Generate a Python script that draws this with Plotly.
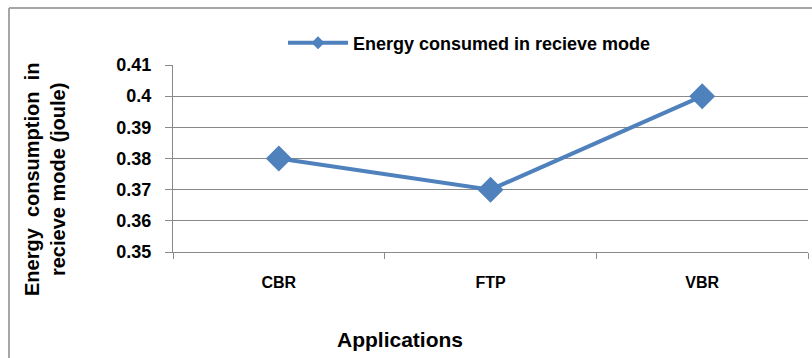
import plotly.graph_objects as go

categories = ["CBR", "FTP", "VBR"]
values = [0.38, 0.37, 0.40]
y_ticks = [0.35, 0.36, 0.37, 0.38, 0.39, 0.40, 0.41]
y_tick_labels = ["0.35", "0.36", "0.37", "0.38", "0.39", "0.4", "0.41"]
series_name = "Energy consumed in recieve mode"

FONT = "Liberation Sans, Arial, sans-serif"
BLUE = "#4F81BD"
GRID = "#898989"
W, H = 812, 358
L, R, T, B = 173, 4, 65, 106

fig = go.Figure()
fig.add_trace(go.Scatter(
    x=categories, y=values, mode="lines+markers",
    name=f"<b>{series_name}</b>", showlegend=False,
    line=dict(color=BLUE, width=4),
    marker=dict(symbol="diamond", size=20, color=BLUE),
))
# legend entry (smaller symbol, as in the reference)
fig.add_trace(go.Scatter(
    x=[None], y=[None], mode="lines+markers",
    name=f"<b>{series_name}</b>", showlegend=True,
    line=dict(color=BLUE, width=4),
    marker=dict(symbol="diamond", size=10, color=BLUE),
))

fig.update_layout(
    width=W, height=H,
    margin=dict(l=L, r=R, t=T, b=B, autoexpand=False),
    paper_bgcolor="white", plot_bgcolor="white",
    font=dict(family=FONT, color="black", size=14),
    showlegend=True,
    legend=dict(orientation="h", x=283/W, y=1-43/H, xref="container", yref="container",
                yanchor="middle", xanchor="left",
                font=dict(family=FONT, size=18, color="black"),
                bgcolor="rgba(0,0,0,0)", itemwidth=60),
    xaxis=dict(
        type="category", range=[-0.5, 2.5], tickson="boundaries",
        showline=True, linecolor=GRID, linewidth=1,
        ticks="outside", ticklen=6, tickcolor=GRID,
        showgrid=False,
        ticklabelstandoff=16,
        tickfont=dict(family=FONT, size=16, color="black", weight="bold"),
    ),
    yaxis=dict(
        range=[0.35, 0.41], tickvals=y_ticks, ticktext=y_tick_labels,
        showline=True, linecolor=GRID, linewidth=1,
        ticks="outside", ticklen=7, tickcolor=GRID,
        showgrid=True, gridcolor=GRID, gridwidth=1,
        zeroline=False,
        ticklabelstandoff=10,
        tickfont=dict(family=FONT, size=18, color="black", weight="bold"),
    ),
)

pw, ph = W - L - R, H - T - B

def px(x):
    return (x - L) / pw

def py(y):
    return (H - B - y) / ph

fig.add_annotation(text="<b>Applications</b>", xref="paper", yref="paper",
                   x=px(400), y=py(339), xanchor="center", yanchor="middle", showarrow=False,
                   font=dict(family=FONT, size=21, color="black"))
fig.add_annotation(text="<b>Energy  consumption  in<br>recieve mode (joule)</b>",
                   xref="paper", yref="paper", x=px(45), y=py(180),
                   xanchor="center", yanchor="middle", showarrow=False,
                   textangle=-90, font=dict(family=FONT, size=20, color="black"))

# outer frame (left and top edges)
fig.add_shape(type="line", xref="paper", yref="paper",
              x0=px(9), x1=px(9), y0=py(365), y1=py(8),
              line=dict(color="#A6A6A6", width=2))
fig.add_shape(type="line", xref="paper", yref="paper",
              x0=px(9), x1=px(820), y0=py(8), y1=py(8),
              line=dict(color="#A6A6A6", width=2))

fig.write_html("out.html", config={"displayModeBar": False},
               post_script="document.body.style.margin='0';")
